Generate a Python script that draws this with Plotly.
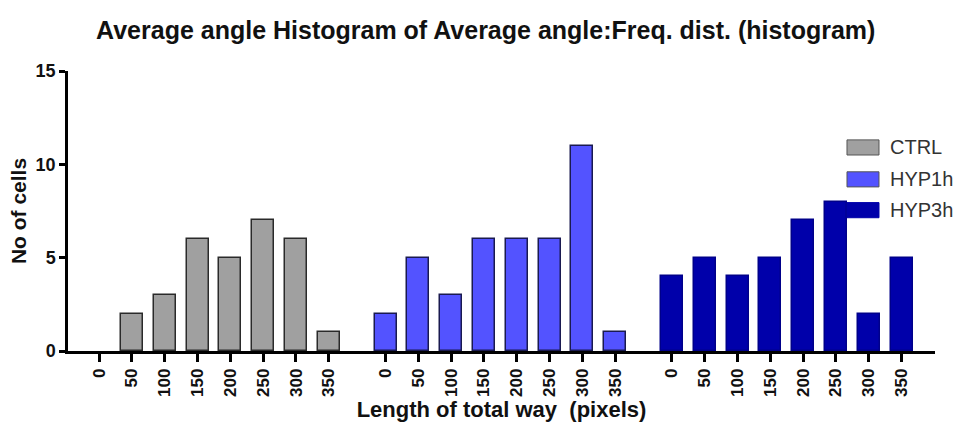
import plotly.graph_objects as go

categories = ["0", "50", "100", "150", "200", "250", "300", "350"]
series_names = ["CTRL", "HYP1h", "HYP3h"]
ctrl = [0, 2, 3, 6, 5, 7, 6, 1]
hyp1h = [2, 5, 3, 6, 6, 6, 11, 1]
hyp3h = [4, 5, 4, 5, 7, 8, 2, 5]
y_ticks = [0, 5, 10, 15]

fills = ["#a0a0a0", "#5353ff", "#0000aa"]
outlines = ["#2a2a2a", "#1a1a50", "#00008a"]
GROUP_STRIDE = 8.73

fig = go.Figure()
all_pos, all_text = [], []
for g, (name, vals) in enumerate(zip(series_names, [ctrl, hyp1h, hyp3h])):
    pos = [g * GROUP_STRIDE + i for i in range(len(categories))]
    all_pos += pos
    all_text += categories
    fig.add_trace(go.Bar(
        x=pos, y=vals, name=name, width=0.67, showlegend=False,
        marker=dict(color=fills[g],
                    line=dict(color=outlines[g], width=[1.5 if v > 0 else 0 for v in vals])),
    ))

# legend drawn as swatches + text labels (paper coords of plot area)
sw_x0, sw_x1 = 0.8985, 0.9354
sw_half = 0.027
legend_y = [0.727, 0.613, 0.503]
for g, name in enumerate(series_names):
    fig.add_shape(type="rect", xref="paper", yref="paper",
                  x0=sw_x0, x1=sw_x1, y0=legend_y[g] - sw_half, y1=legend_y[g] + sw_half,
                  fillcolor=fills[g], line=dict(color="#555" if g < 2 else fills[g], width=1))
    fig.add_annotation(xref="paper", yref="paper", x=0.946, y=legend_y[g],
                       xanchor="left", yanchor="middle", showarrow=False,
                       text=name, font=dict(size=20, color="#333"))

fig.update_layout(
    width=960, height=426,
    paper_bgcolor="white", plot_bgcolor="white",
    margin=dict(l=68, r=25, t=71, b=75),
    font=dict(family="Liberation Sans, Arial, sans-serif", color="black"),
    title=dict(text="<b>Average angle Histogram of Average angle:Freq. dist. (histogram)</b>",
               x=0.506, xanchor="center", y=0.93, yanchor="middle",
               font=dict(size=25, color="#111")),
    showlegend=False,
    bargap=0,
)
fig.update_xaxes(
    range=[-0.95, 2 * GROUP_STRIDE + 7 + 1.02],
    tickmode="array", tickvals=all_pos, ticktext=[f"<b>{t}</b>" for t in all_text],
    tickangle=-90, tickfont=dict(size=17, color="#111"),
    ticks="outside", ticklen=8, tickwidth=2.5, tickcolor="black",
    showline=True, linecolor="black", linewidth=2.5,
    showgrid=False, zeroline=False, automargin=False,
    title=dict(text="<b>Length of total way  (pixels)</b>", font=dict(size=22, color="#111"), standoff=2),
)
fig.update_yaxes(
    range=[0, 15], tickmode="array", tickvals=y_ticks,
    ticktext=[f"<b>{v}</b>" for v in y_ticks], tickfont=dict(size=18, color="#111"),
    ticks="outside", ticklen=6, tickwidth=2.5, tickcolor="black",
    showline=True, linecolor="black", linewidth=2.5,
    showgrid=False, zeroline=False, automargin=False,
    title=dict(text="<b>No of cells</b>", font=dict(size=21, color="#111"), standoff=4),
)

fig.write_html("out.html", config={"displayModeBar": False},
               post_script="document.body.style.margin='0';document.body.style.overflow='hidden';")
